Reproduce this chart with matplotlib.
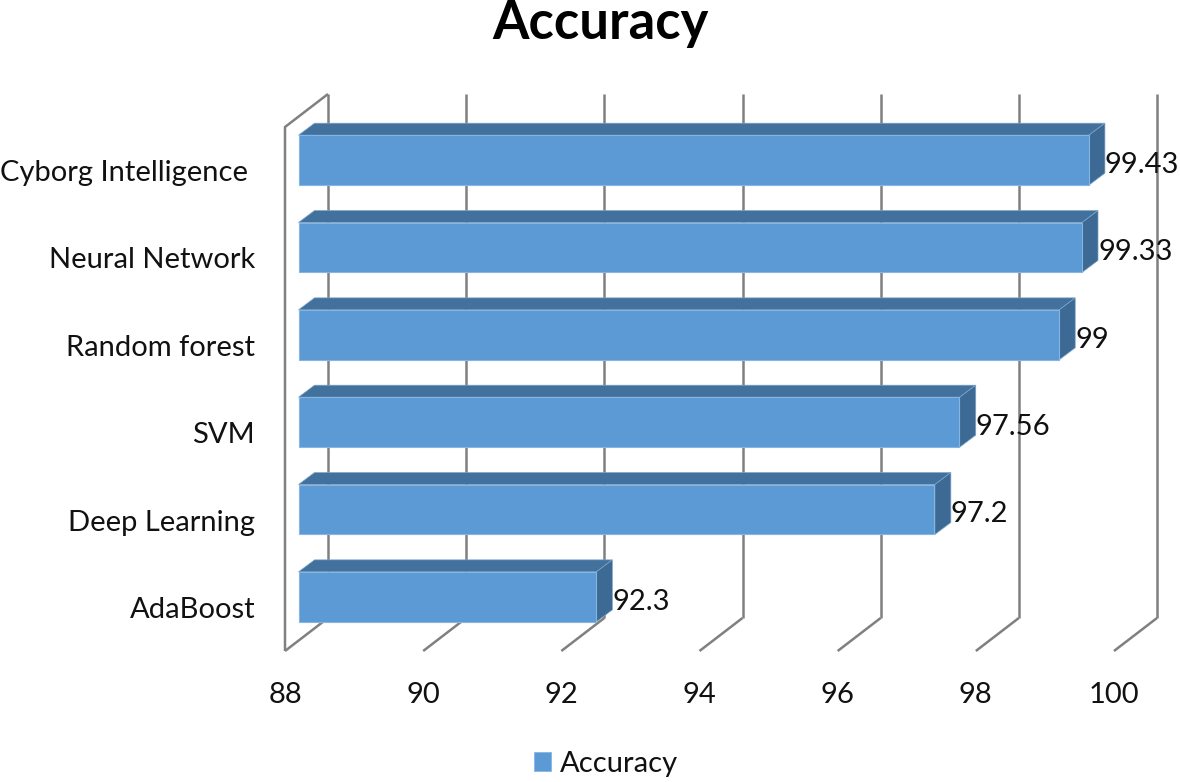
import matplotlib
matplotlib.use("Agg")
import matplotlib.pyplot as plt
from matplotlib.patches import Polygon, Patch
from matplotlib.transforms import Affine2D

categories = ["AdaBoost", "Deep Learning", "SVM", "Random forest", "Neural Network", "Cyborg Intelligence "]
accuracy = [92.3, 97.2, 97.56, 99, 99.33, 99.43]
x_ticks = [88, 90, 92, 94, 96, 98, 100]
series_name = "Accuracy"

FRONT, TOP, SIDE = "#5B9AD5", "#41719C", "#3C6A94"
GRID = "#808080"
W, H = 1180, 782
FS = 21
plt.rcParams["font.family"] = ["Lato", "DejaVu Sans"]

fig = plt.figure(figsize=(W / 100, H / 100), dpi=100)
L, R, T, B = 285, 1114, 127, 651
ax = fig.add_axes([L / W, 1 - B / H, (R - L) / W, (B - T) / H])
ax.set_xlim(88, 100)
ax.set_ylim(-0.5, 5.5)
for s in ax.spines.values():
    s.set_visible(False)
ax.patch.set_alpha(0)
ax.set_xticks(x_ticks)
ax.set_xticklabels([str(v) for v in x_ticks], fontsize=FS, color="#111111")
ax.set_yticks(range(len(categories)))
ax.set_yticklabels(categories, fontsize=FS, color="#111111")
ax.tick_params(axis="x", length=0, pad=22.2)
ax.tick_params(axis="y", length=0, pad=21.5)

base = ax.transData
back = base + Affine2D().translate(43, 33)
y0, y1 = ax.get_ylim()
line = dict(color=GRID, lw=1.8, clip_on=False, zorder=1, solid_capstyle="butt")
for v in x_ticks:
    ax.plot([v, v], [y0, y1], transform=back, **line)
    t = base.transform((v, y0))
    ax.plot([t[0], t[0] + 43], [t[1], t[1] + 33], transform=None, **line)
t0 = base.transform((88, y0)); t1 = base.transform((88, y1))
ax.plot([t0[0], t1[0], t1[0] + 43], [t0[1], t1[1], t1[1] + 33], transform=None, **line)

DX, DY = 13.5, 10.5   # bar front face offset from the front plane
BX, BY = 16, 12       # bar depth
HALF = 0.286
for i, v in enumerate(accuracy):
    a = base.transform((88, i - HALF)) + (DX, DY)
    b = base.transform((v, i + HALF)) + (DX, DY)
    b[0] += 0.8
    ax.add_patch(Polygon([(a[0], b[1]), (b[0], b[1]), (b[0] + BX, b[1] + BY), (a[0] + BX, b[1] + BY)],
                         closed=True, transform=None, fc=TOP, ec="#7fa5c8", lw=0.5, clip_on=False, zorder=2))
    ax.add_patch(Polygon([(b[0], a[1]), (b[0] + BX, a[1] + BY), (b[0] + BX, b[1] + BY), (b[0], b[1])],
                         closed=True, transform=None, fc=SIDE, ec="#7fa5c8", lw=0.5, clip_on=False, zorder=2))
    ax.barh(i, v - 88, left=88, height=2 * HALF, color=FRONT, edgecolor="#86b5e2", linewidth=0.8,
            transform=base + Affine2D().translate(DX + 0.4, DY), zorder=3, clip_on=False)
    ax.text(b[0] + BX, (a[1] + b[1]) / 2 - 5, f"{v:g}", transform=None, fontsize=FS,
            color="#111111", va="center", ha="left", zorder=5, clip_on=False)

fig.text(600 / W, 1 - 24 / H, series_name, fontsize=37.8, fontweight="bold", color="black",
         ha="center", va="center")
fig.legend(handles=[Patch(fc=FRONT, ec="#86b5e2", lw=0.6, label=series_name)], loc="center",
           bbox_to_anchor=(606 / W, 1 - 764 / H), frameon=False, fontsize=FS, labelcolor="#111111",
           handlelength=0.6, handleheight=0.62, handletextpad=0.3, borderpad=0)

fig.savefig("out.png", dpi=100, facecolor="white")
